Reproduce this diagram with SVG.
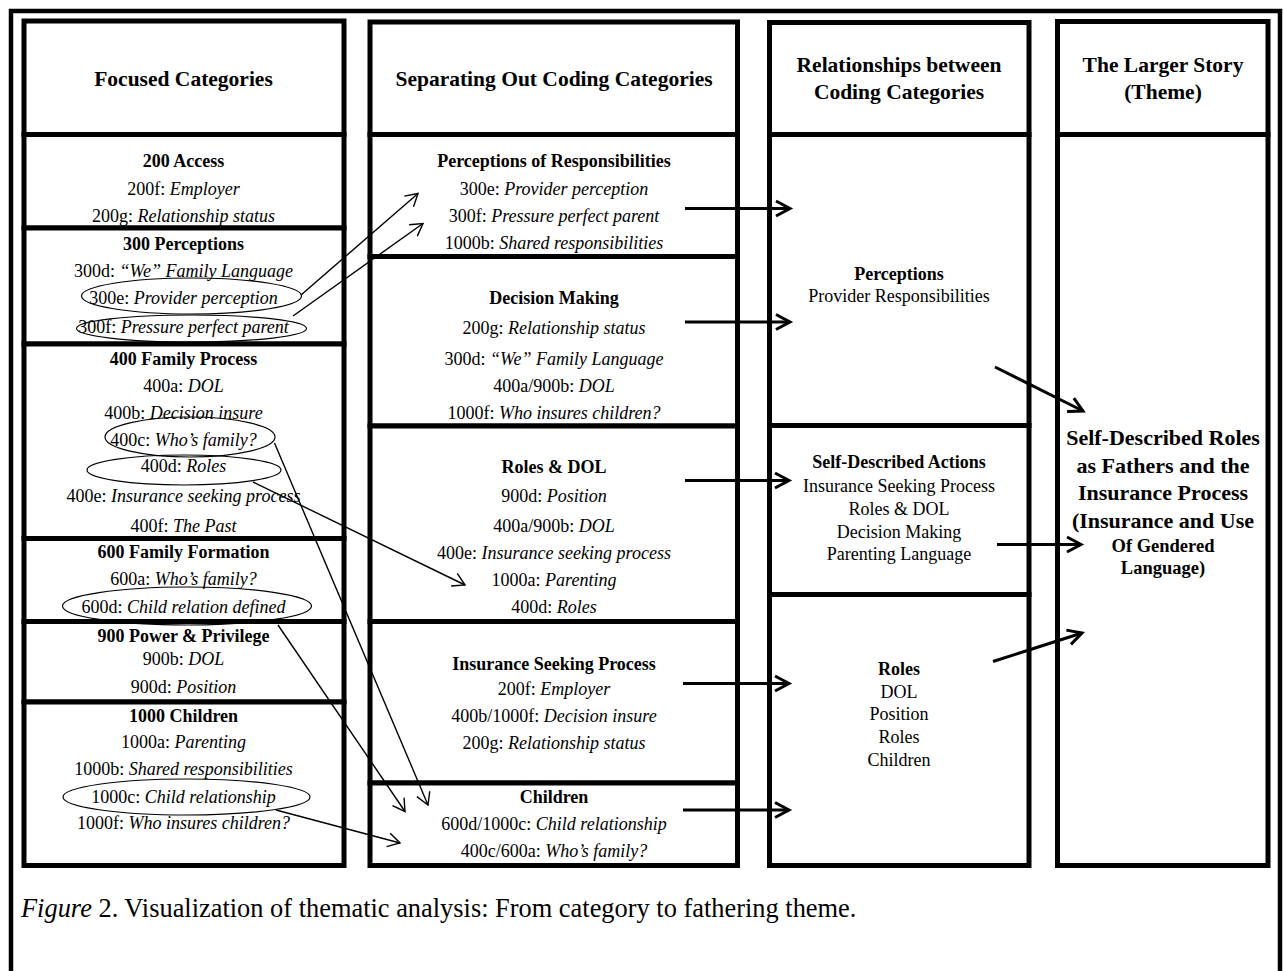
<svg xmlns="http://www.w3.org/2000/svg" width="1283" height="971" viewBox="0 0 1283 971">
<style>
text{font-family:"Liberation Serif","Times New Roman",serif;fill:#000;text-anchor:middle}
.h{font-size:21.5px;font-weight:bold}
.t{font-size:18px;font-weight:bold}
.r{font-size:18px}
.big{font-size:22px;font-weight:bold}
.mid{font-size:18.5px;font-weight:bold}
.it{font-style:italic}
.box{fill:#fff;stroke:#000;stroke-width:5}
.ell{fill:none;stroke:#000;stroke-width:1.2}
.thin{fill:none;stroke:#000;stroke-width:1.4;marker-end:url(#ahThin)}
.thick{fill:none;stroke:#000;stroke-width:3;marker-end:url(#ahThick)}
.cap{font-size:26.4px;text-anchor:start}
</style>
<defs>
<marker id="ahThin" markerUnits="userSpaceOnUse" markerWidth="16" markerHeight="18" refX="13" refY="8" orient="auto" overflow="visible"><path d="M1,1 L13,8 L1,15" fill="none" stroke="#000" stroke-width="1.4"/></marker>
<marker id="ahThick" markerUnits="userSpaceOnUse" markerWidth="20" markerHeight="20" refX="15" refY="9" orient="auto" overflow="visible"><path d="M1,1.5 L15,9 L1,16.5" fill="none" stroke="#000" stroke-width="3"/></marker>
</defs>
<rect width="1283" height="971" fill="#fff"/>
<path d="M11,975 V11 H1280 V975" fill="none" stroke="#000" stroke-width="4.5"/>

<!-- Column 1 -->
<g id="col1-header"><rect class="box" x="24" y="21" width="320" height="113.5"/><text class="h" x="183.5" y="86">Focused Categories</text></g>
<g id="c1-200"><rect class="box" x="24" y="134.5" width="320" height="93.5"/>
<text class="t" x="183.5" y="166.5">200 Access</text>
<text class="r" x="183.5" y="195">200f: <tspan class="it">Employer</tspan></text>
<text class="r" x="183.5" y="221.5">200g: <tspan class="it">Relationship status</tspan></text></g>
<g id="c1-300"><rect class="box" x="24" y="228" width="320" height="116"/>
<text class="t" x="183.5" y="250">300 Perceptions</text>
<text class="r" x="183.5" y="277">300d: <tspan class="it">“We” Family Language</tspan></text>
<text class="r" x="183.5" y="304">300e: <tspan class="it">Provider perception</tspan></text>
<text class="r" x="183.5" y="333">300f: <tspan class="it">Pressure perfect parent</tspan></text></g>
<g id="c1-400"><rect class="box" x="24" y="344" width="320" height="194.5"/>
<text class="t" x="183.5" y="365">400 Family Process</text>
<text class="r" x="183.5" y="391.5">400a: <tspan class="it">DOL</tspan></text>
<text class="r" x="183.5" y="419">400b: <tspan class="it">Decision insure</tspan></text>
<text class="r" x="183.5" y="446">400c: <tspan class="it">Who’s family?</tspan></text>
<text class="r" x="183.5" y="471.5">400d: <tspan class="it">Roles</tspan></text>
<text class="r" x="183.5" y="501.5">400e: <tspan class="it">Insurance seeking process</tspan></text>
<text class="r" x="183.5" y="531.5">400f: <tspan class="it">The Past</tspan></text></g>
<g id="c1-600"><rect class="box" x="24" y="538.5" width="320" height="83"/>
<text class="t" x="183.5" y="558">600 Family Formation</text>
<text class="r" x="183.5" y="585">600a: <tspan class="it">Who’s family?</tspan></text>
<text class="r" x="183.5" y="612.5">600d: <tspan class="it">Child relation defined</tspan></text></g>
<g id="c1-900"><rect class="box" x="24" y="621.5" width="320" height="80.5"/>
<text class="t" x="183.5" y="641.5">900 Power &amp; Privilege</text>
<text class="r" x="183.5" y="665">900b: <tspan class="it">DOL</tspan></text>
<text class="r" x="183.5" y="693">900d: <tspan class="it">Position</tspan></text></g>
<g id="c1-1000"><rect class="box" x="24" y="702" width="320" height="163.5"/>
<text class="t" x="183.5" y="721.5">1000 Children</text>
<text class="r" x="183.5" y="748">1000a: <tspan class="it">Parenting</tspan></text>
<text class="r" x="183.5" y="775">1000b: <tspan class="it">Shared responsibilities</tspan></text>
<text class="r" x="183.5" y="802.5">1000c: <tspan class="it">Child relationship</tspan></text>
<text class="r" x="183.5" y="828.5">1000f: <tspan class="it">Who insures children?</tspan></text></g>

<!-- Column 2 -->
<g id="col2-header"><rect class="box" x="370" y="22" width="367.5" height="112.5"/><text class="h" x="554" y="86">Separating Out Coding Categories</text></g>
<g id="c2-perceptions"><rect class="box" x="370" y="134.5" width="367.5" height="122"/>
<text class="t" x="554" y="166.5">Perceptions of Responsibilities</text>
<text class="r" x="554" y="195">300e: <tspan class="it">Provider perception</tspan></text>
<text class="r" x="554" y="221.5">300f: <tspan class="it">Pressure perfect parent</tspan></text>
<text class="r" x="554" y="248.5">1000b: <tspan class="it">Shared responsibilities</tspan></text></g>
<g id="c2-decision"><rect class="box" x="370" y="256.5" width="367.5" height="169.5"/>
<text class="t" x="554" y="304">Decision Making</text>
<text class="r" x="554" y="333.5">200g: <tspan class="it">Relationship status</tspan></text>
<text class="r" x="554" y="365">300d: <tspan class="it">“We” Family Language</tspan></text>
<text class="r" x="554" y="391.5">400a/900b: <tspan class="it">DOL</tspan></text>
<text class="r" x="554" y="419">1000f: <tspan class="it">Who insures children?</tspan></text></g>
<g id="c2-roles"><rect class="box" x="370" y="426" width="367.5" height="195.5"/>
<text class="t" x="554" y="472.5">Roles &amp; DOL</text>
<text class="r" x="554" y="501.5">900d: <tspan class="it">Position</tspan></text>
<text class="r" x="554" y="531.5">400a/900b: <tspan class="it">DOL</tspan></text>
<text class="r" x="554" y="559">400e: <tspan class="it">Insurance seeking process</tspan></text>
<text class="r" x="554" y="586">1000a: <tspan class="it">Parenting</tspan></text>
<text class="r" x="554" y="613">400d: <tspan class="it">Roles</tspan></text></g>
<g id="c2-insurance"><rect class="box" x="370" y="621.5" width="367.5" height="161.5"/>
<text class="t" x="554" y="669.5">Insurance Seeking Process</text>
<text class="r" x="554" y="695">200f: <tspan class="it">Employer</tspan></text>
<text class="r" x="554" y="721.5">400b/1000f: <tspan class="it">Decision insure</tspan></text>
<text class="r" x="554" y="748.5">200g: <tspan class="it">Relationship status</tspan></text></g>
<g id="c2-children"><rect class="box" x="370" y="783" width="367.5" height="82.5"/>
<text class="t" x="554" y="802.5">Children</text>
<text class="r" x="554" y="829.5">600d/1000c: <tspan class="it">Child relationship</tspan></text>
<text class="r" x="554" y="857">400c/600a: <tspan class="it">Who’s family?</tspan></text></g>

<!-- Column 3 -->
<g id="col3-header"><rect class="box" x="769.5" y="22.5" width="259.5" height="112"/>
<text class="h" x="899" y="71.5">Relationships between</text>
<text class="h" x="899" y="98.5">Coding Categories</text></g>
<g id="c3-perceptions"><rect class="box" x="769.5" y="134.5" width="259.5" height="291"/>
<text class="t" x="899" y="280">Perceptions</text>
<text class="r" x="899" y="301.5">Provider Responsibilities</text></g>
<g id="c3-actions"><rect class="box" x="769.5" y="425.5" width="259.5" height="169"/>
<text class="t" x="899" y="468">Self-Described Actions</text>
<text class="r" x="899" y="491.5">Insurance Seeking Process</text>
<text class="r" x="899" y="514.5">Roles &amp; DOL</text>
<text class="r" x="899" y="537.5">Decision Making</text>
<text class="r" x="899" y="560">Parenting Language</text></g>
<g id="c3-roles"><rect class="box" x="769.5" y="594.5" width="259.5" height="271"/>
<text class="t" x="899" y="675">Roles</text>
<text class="r" x="899" y="697.5">DOL</text>
<text class="r" x="899" y="720">Position</text>
<text class="r" x="899" y="743">Roles</text>
<text class="r" x="899" y="766">Children</text></g>

<!-- Column 4 -->
<g id="col4-header"><rect class="box" x="1057.5" y="21.5" width="210.5" height="113"/>
<text class="h" x="1163" y="71.5">The Larger Story</text>
<text class="h" x="1163" y="99">(Theme)</text></g>
<g id="c4-theme"><rect class="box" x="1057.5" y="134.5" width="210.5" height="731"/>
<text class="big" x="1163" y="445">Self-Described Roles</text>
<text class="big" x="1163" y="472.5">as Fathers and the</text>
<text class="big" x="1163" y="499.5">Insurance Process</text>
<text class="big" x="1163" y="528">(Insurance and Use</text>
<text class="mid" x="1163" y="552">Of Gendered</text>
<text class="mid" x="1163" y="573.5">Language)</text></g>

<!-- Ellipses highlighting codes -->
<g id="highlights">
<ellipse class="ell" cx="191.5" cy="296" rx="110" ry="18"/>
<ellipse class="ell" cx="191.5" cy="328.5" rx="115" ry="13.5"/>
<ellipse class="ell" cx="190" cy="437" rx="85" ry="20"/>
<ellipse class="ell" cx="184" cy="470" rx="97" ry="15"/>
<ellipse class="ell" cx="187" cy="606" rx="124.5" ry="19"/>
<ellipse class="ell" cx="186.5" cy="797" rx="123.5" ry="18"/>
</g>

<!-- Connectors -->
<g id="connectors">
<path class="thin" d="M301,295 L418,193.5"/>
<path class="thin" d="M293,316 L423,223.5"/>
<path class="thin" d="M253,482 L465,585"/>
<path class="thin" d="M274.5,443 L428,805"/>
<path class="thin" d="M278,625 L405,811.5"/>
<path class="thin" d="M276,810 L400,843"/>
<path class="thick" d="M685,208.5 L790,208.5"/>
<path class="thick" d="M685,322 L790,322"/>
<path class="thick" d="M685,480.5 L789,480.5"/>
<path class="thick" d="M683,683.5 L789,683.5"/>
<path class="thick" d="M683,810 L789,810"/>
<path class="thick" d="M995,367 L1083,411"/>
<path class="thick" d="M997,544.5 L1081,544.5"/>
<path class="thick" d="M993,661.5 L1082,633"/>
</g>

<text class="cap" x="21" y="917"><tspan class="it">Figure</tspan> 2. Visualization of thematic analysis: From category to fathering theme.</text>
</svg>
